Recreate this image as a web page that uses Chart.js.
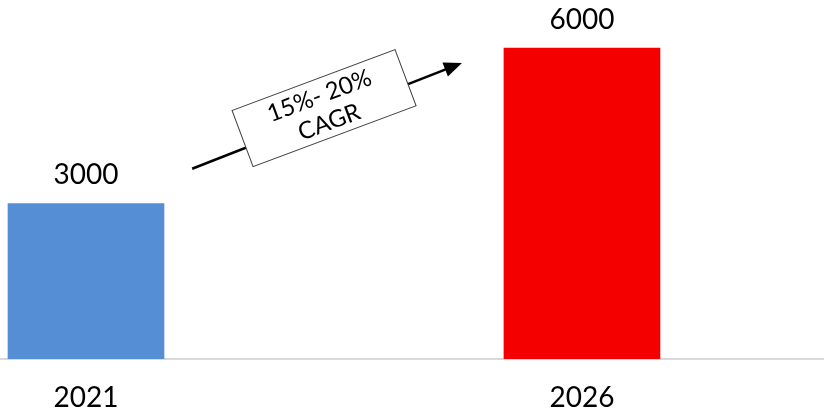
<!DOCTYPE html>
<html>
<head>
<meta charset="utf-8">
<script src="https://cdn.jsdelivr.net/npm/chart.js@4/dist/chart.umd.min.js"></script>
<style>
  html, body { margin: 0; padding: 0; background: #fff; }
  #wrap { width: 824px; height: 413px; }
</style>
</head>
<body>
<div id="wrap"><canvas id="c"></canvas></div>
<script>
// Market size by year
const years = [2021, 2026];
const yearLabels = ['2021', '2026'];
const values = [3000, 6000];
const barColors = ['#558ed5', '#f50000'];

// Growth callout, anchored in data space (x = year, y = value)
const cagrText = ['15%- 20%', 'CAGR'];
const arrowFrom = { x: 2022.07, y: 3670 };
const arrowTo = { x: 2024.79, y: 5710 };
const boxCenter = { x: 2023.40, y: 4840 };

const FONT = 'Lato, "Open Sans", sans-serif';

const valueLabels = {
  id: 'valueLabels',
  afterDatasetsDraw(chart) {
    const { ctx } = chart;
    const meta = chart.getDatasetMeta(0);
    ctx.save();
    ctx.font = '28px ' + FONT;
    ctx.fillStyle = '#000';
    ctx.textAlign = 'center';
    ctx.textBaseline = 'alphabetic';
    meta.data.forEach((bar, i) => {
      ctx.fillText(String(values[i]), bar.x, bar.y - 19);
    });
    ctx.restore();
  }
};

const cagrCallout = {
  id: 'cagrCallout',
  afterDraw(chart) {
    const { ctx, scales: { x, y } } = chart;
    const x0 = x.getPixelForValue(arrowFrom.x), y0 = y.getPixelForValue(arrowFrom.y);
    const x1 = x.getPixelForValue(arrowTo.x), y1 = y.getPixelForValue(arrowTo.y);
    const ang = Math.atan2(y1 - y0, x1 - x0);
    ctx.save();
    // arrow shaft
    ctx.strokeStyle = '#000';
    ctx.lineWidth = 2.5;
    ctx.beginPath();
    ctx.moveTo(x0, y0);
    ctx.lineTo(x1 - 14 * Math.cos(ang), y1 - 14 * Math.sin(ang));
    ctx.stroke();
    // arrow head
    ctx.translate(x1, y1);
    ctx.rotate(ang);
    ctx.fillStyle = '#000';
    ctx.beginPath();
    ctx.moveTo(0, 0);
    ctx.lineTo(-18, -7.5);
    ctx.lineTo(-18, 7.5);
    ctx.closePath();
    ctx.fill();
    ctx.restore();

    // rotated text box
    const cx = x.getPixelForValue(boxCenter.x), cy = y.getPixelForValue(boxCenter.y);
    const w = 174, h = 60;
    ctx.save();
    ctx.translate(cx, cy);
    ctx.rotate(-20.5 * Math.PI / 180);
    ctx.fillStyle = '#fff';
    ctx.fillRect(-w / 2, -h / 2, w, h);
    ctx.strokeStyle = '#404040';
    ctx.lineWidth = 1;
    ctx.strokeRect(-w / 2, -h / 2, w, h);
    ctx.fillStyle = '#000';
    ctx.font = '24px ' + FONT;
    ctx.textAlign = 'center';
    ctx.textBaseline = 'middle';
    ctx.fillText(cagrText[0], 0, -13);
    ctx.fillText(cagrText[1], 0, 15);
    ctx.restore();
  }
};

new Chart(document.getElementById('c'), {
  type: 'bar',
  data: {
    datasets: [{
      data: years.map((yr, i) => ({ x: yr, y: values[i] })),
      backgroundColor: barColors,
      borderWidth: 0,
      barThickness: 156
    }]
  },
  options: {
    responsive: true,
    maintainAspectRatio: false,
    animation: false,
    layout: { padding: 0 },
    plugins: { legend: { display: false }, tooltip: { enabled: false } },
    scales: {
      x: {
        type: 'linear',
        offset: false,
        bounds: 'data',
        min: 2020.133,
        max: 2028.44,
        afterBuildTicks(scale) { scale.ticks = years.map(v => ({ value: v })); },
        afterFit(scale) { scale.height = 54; },
        grid: { display: false, drawTicks: false, offset: false },
        border: { display: true, color: '#d9d9d9', width: 2 },
        ticks: {
          padding: 22,
          color: '#000',
          font: { family: FONT, size: 28 },
          callback: (v) => yearLabels[years.indexOf(v)] ?? ''
        }
      },
      y: {
        display: false,
        min: 0,
        max: 6926
      }
    }
  },
  plugins: [valueLabels, cagrCallout]
});
</script>
</body>
</html>
